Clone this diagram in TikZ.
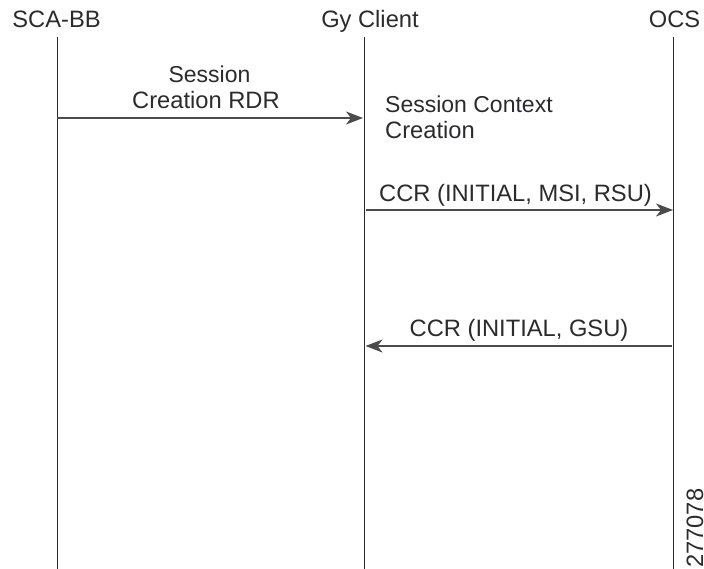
\documentclass[tikz,border=0pt]{standalone}
\usepackage{fontspec}
\setmainfont{Liberation Sans}
\usetikzlibrary{arrows.meta}
\definecolor{ink}{HTML}{2B2B2D}
\tikzset{
 px/.style={x=1pt,y=-1pt},
 lab/.style={font=\fontsize{23.7}{28}\selectfont,text=ink,inner sep=0pt,anchor=base,align=center},
 labs/.style={lab,font=\fontsize{23}{28}\selectfont},
 life/.style={draw=ink,line width=0.9pt},
 msg/.style={draw=ink!85!white,line width=1.3pt,-{Stealth[length=17pt,width=13pt,inset=5pt]}}
}
\begin{document}
\begin{tikzpicture}[px]
\useasboundingbox[fill=white] (0,0) rectangle (704,569);
\node[lab] (sca) at (56.5,27.7) {SCA-BB};
\node[lab] (gy) at (370,27.7) {Gy Client};
\node[lab] (ocs) at (674.5,27.7) {OCS};
\coordinate (scaT) at (57,37); \coordinate (scaB) at (57,569);
\coordinate (gyT) at (364.5,37); \coordinate (gyB) at (364.5,569);
\coordinate (ocsT) at (673.5,37); \coordinate (ocsB) at (673.5,569);
\draw[life] (scaT) -- (scaB);
\draw[life] (gyT) -- (gyB);
\draw[life] (ocsT) -- (ocsB);
\coordinate (a1) at (57,118); \coordinate (a2) at (363,118);
\coordinate (b1) at (366,210); \coordinate (b2) at (673,210);
\coordinate (c1) at (672,346); \coordinate (c2) at (365.5,346);
\draw[msg] (a1) -- (a2);
\draw[msg] (b1) -- (b2);
\draw[msg] (c1) -- (c2);
\node[labs] (t1) at (209.5,83) {Session};
\node[lab] (t2) at (206,108.7) {Creation RDR};
\node[labs,anchor=base west] (t3) at (385,113) {Session Context};
\node[lab,anchor=base west] (t4) at (385,138.7) {Creation};
\node[lab] (t5) at (515.5,201.7) {CCR (INITIAL, MSI, RSU)};
\node[lab] (t6) at (519,337) {CCR (INITIAL, GSU)};
\node[lab,rotate=90,anchor=base west] (t7) at (703,568) {277078};
\end{tikzpicture}
\end{document}
